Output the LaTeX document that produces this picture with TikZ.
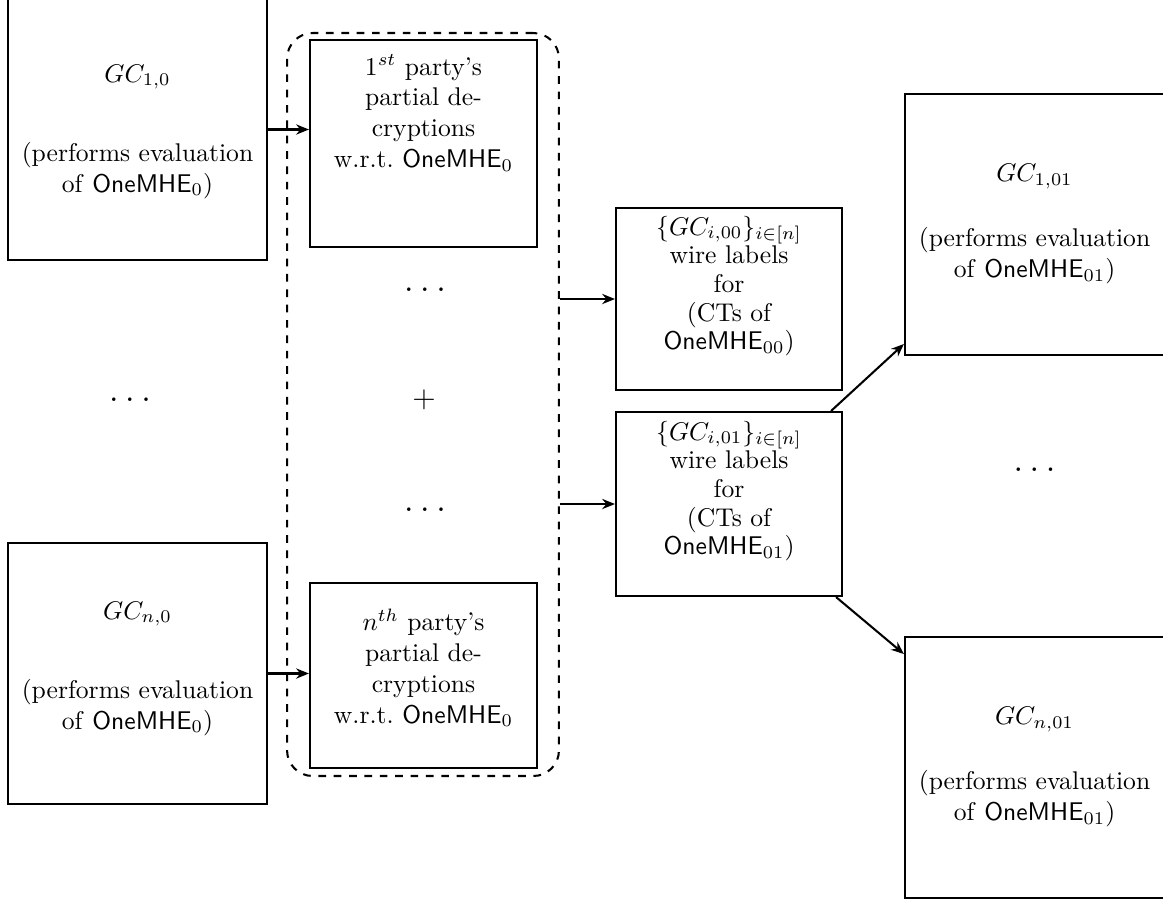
\documentclass[tikz,border=0pt]{standalone}
\usetikzlibrary{arrows.meta,calc}
\begin{document}
\begin{tikzpicture}[x=0.3906pt,y=-0.3906pt,
  box/.style={draw,thick,inner sep=0pt},
  txt/.style={align=center,inner sep=0pt},
  tighttxt/.style={align=center,inner sep=0pt,font={\fontsize{10}{11.2}\selectfont}},
  dotnode/.style={inner sep=0pt,font=\Large},
  dbox/.style={draw,thick,dashed,rounded corners=10pt,inner sep=0pt},
  arr/.style={thick,-{Stealth[length=5pt,width=4pt]}}]
\useasboundingbox (0,0) rectangle (1163,905);
% dashed group
\node[dbox,minimum width=106.2pt,minimum height=290.2pt] (D) at (423,404.5) {};
% left boxes
\node[box,minimum width=101.2pt,minimum height=101.9pt] (L1) at (137.5,129.5) {};
\node[txt] (L1t) at (137.5,131.5) {$GC_{1,0}$\\[19pt](performs evaluation\\of \textsf{OneMHE}$_0$)};
\node[box,minimum width=101.2pt,minimum height=101.9pt] (L2) at (137.5,673.5) {};
\node[txt] (L2t) at (137.5,668.5) {$GC_{n,0}$\\[19pt](performs evaluation\\of \textsf{OneMHE}$_0$)};
\node[dotnode] (ldots) at (130,400) {$\dots$};
% partial decryptions
\node[box,minimum width=88.7pt,minimum height=80.9pt] (P1) at (423.5,143.5) {};
\node[txt] (P1t) at (423.5,113) {$1^{st}$ party's\\partial de-\\cryptions\\w.r.t.\ \textsf{OneMHE}$_0$};
\node[box,minimum width=88.7pt,minimum height=72.3pt] (P2) at (423.5,675.5) {};
\node[txt] (P2t) at (423.5,668) {$n^{th}$ party's\\partial de-\\cryptions\\w.r.t.\ \textsf{OneMHE}$_0$};
\node[dotnode] (mdots1) at (425,290) {$\dots$};
\node[inner sep=0pt,font=\large] (plus) at (424,400) {$+$};
\node[dotnode] (mdots2) at (425,510) {$\dots$};
% middle boxes
\node[box,minimum width=88.3pt,minimum height=71.1pt] (M1) at (729,299) {};
\node[tighttxt] (M1t) at (729,286) {$\{GC_{i,00}\}_{i\in[n]}$\\wire labels\\for\\(CTs of\\\textsf{OneMHE}$_{00}$)};
\node[box,minimum width=88.3pt,minimum height=71.9pt] (M2) at (729,504) {};
\node[tighttxt] (M2t) at (729,491) {$\{GC_{i,01}\}_{i\in[n]}$\\wire labels\\for\\(CTs of\\\textsf{OneMHE}$_{01}$)};
% right boxes
\node[box,minimum width=101.2pt,minimum height=101.9pt] (R1) at (1034.5,224.5) {};
\node[txt] (R1t) at (1034.5,224) {$GC_{1,01}$\\[13.5pt](performs evaluation\\of \textsf{OneMHE}$_{01}$)};
\node[box,minimum width=101.2pt,minimum height=101.9pt] (R2) at (1034.5,767.5) {};
\node[txt] (R2t) at (1034.5,767) {$GC_{n,01}$\\[13.5pt](performs evaluation\\of \textsf{OneMHE}$_{01}$)};
\node[dotnode] (rdots) at (1034.5,470) {$\dots$};
% arrows
\draw[arr] (L1.east) -- (L1.east -| P1.west);
\draw[arr] (L2.east) -- (L2.east -| P2.west);
\draw[arr] (D.east |- M1) -- (M1.west);
\draw[arr] (D.east |- M2) -- (M2.west);
\draw[arr] ($(M2.north east)+(-12,0)$) -- ($(R1.south west)+(0,-12)$);
\draw[arr] ($(M2.south east)+(-7,0)$) -- ($(R2.north west)+(0,18)$);
\end{tikzpicture}
\end{document}
